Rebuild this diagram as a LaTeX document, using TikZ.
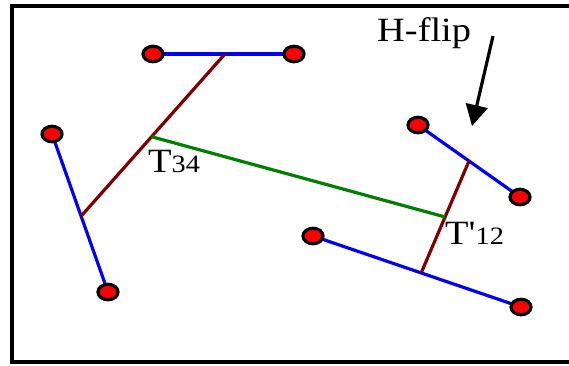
\documentclass[tikz,border=0pt]{standalone}
\usepackage{fontspec}
\setmainfont{Liberation Serif}[Ligatures=TeXOff]
\usetikzlibrary{shapes.geometric,calc,arrows.meta}
\definecolor{segblue}{RGB}{0,0,255}
\definecolor{linkbrown}{RGB}{128,0,0}
\definecolor{linkgreen}{RGB}{0,128,0}
\tikzset{
  dot/.style={ellipse,draw=black,fill=red,line width=3.2pt,minimum width=20pt,minimum height=15.5pt,inner sep=0pt},
  seg/.style={draw=segblue,line width=3.2pt},
  link/.style={draw=linkbrown,line width=3.2pt},
  glink/.style={draw=linkgreen,line width=3.2pt},
  lbl/.style={inner sep=0pt,xscale=1.13,text=black},
}
\newcommand{\bigT}[1]{{\fontsize{34}{34}\selectfont #1}}
\newcommand{\smallD}[1]{{\fontsize{25}{25}\selectfont #1}}
\begin{document}
\begin{tikzpicture}[x=1pt,y=-1pt]
\useasboundingbox (0,0) rectangle (569,365);
\fill[white] (0,0) rectangle (569,365);
% frame
\draw[line width=3.2pt] (569,6) -- (12,6) -- (12,362) -- (569,362);
% segment endpoints
\coordinate (a1) at (153,54);
\coordinate (a2) at (294,54);
\coordinate (b1) at (52,134);
\coordinate (b2) at (108,292);
\coordinate (c1) at (418,125);
\coordinate (c2) at (520,197);
\coordinate (d1) at (313,236);
\coordinate (d2) at (521,307);
% midpoints
\coordinate (ma) at ($(a1)!0.51!(a2)$);
\coordinate (mb) at ($(b1)!0.52!(b2)$);
\coordinate (mc) at ($(c1)!0.5!(c2)$);
\coordinate (md) at ($(d1)!0.52!(d2)$);
\coordinate (t34) at ($(ma)!0.51!(mb)$);
\coordinate (t12) at ($(mc)!0.5!(md)$);
% blue segments
\draw[seg] (a1) -- (a2);
\draw[seg] (b1) -- (b2);
\draw[seg] (c1) -- (c2);
\draw[seg] (d1) -- (d2);
% brown links
\draw[link] (ma) -- (mb);
\draw[link] (mc) -- (md);
% green link
\draw[glink] (t34) -- (t12);
% dots
\foreach \p in {a1,a2,b1,b2,c1,c2,d1,d2}{
  \node[dot] (n\p) at (\p) {};
}
% labels
\node[lbl,anchor=base west] (l34) at (148,172) {\bigT{T}\smallD{34}};
\node[lbl,anchor=base west] (l12) at (445,244) {\bigT{T'}\smallD{12}};
\node[lbl,anchor=base west] (lh) at (377,41) {\bigT{H-flip}};
% arrow
\coordinate (arrtail) at (493,36);
\coordinate (arrtip) at (472,126);
\draw[line width=3.2pt,-{Triangle[length=21pt,width=22pt]}] (arrtail) -- (arrtip);
\end{tikzpicture}
\end{document}
